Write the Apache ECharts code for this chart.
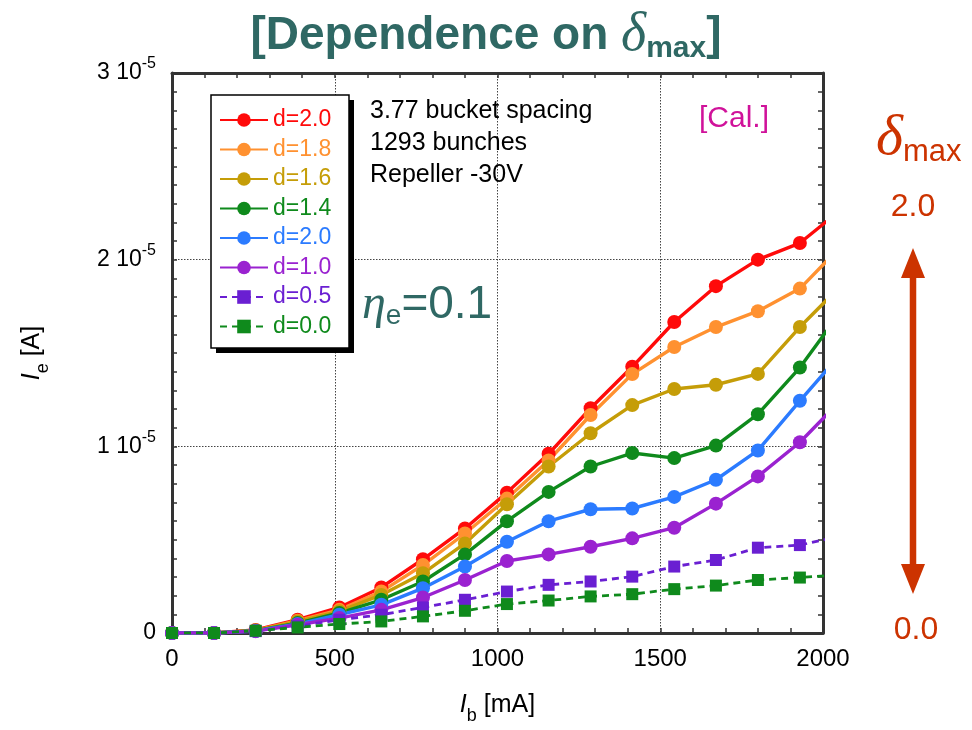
<!DOCTYPE html>
<html>
<head>
<meta charset="utf-8">
<script src="https://cdn.jsdelivr.net/npm/echarts@6/dist/echarts.min.js"></script>
<style>html,body{margin:0;padding:0;background:#fff}#c{width:972px;height:730px}</style>
</head>
<body>
<div id="c"></div>
<script>
// Beam current Ib [mA]
const ib = [0, 129, 257, 386, 514, 643, 771, 900, 1029, 1157, 1286, 1414, 1543, 1671, 1800, 1929, 2057];
// Electron current Ie, in units of 1e-5 A
const d20 = [0, 0, 0.016, 0.071, 0.137, 0.244, 0.395, 0.56, 0.752, 0.96, 1.204, 1.426, 1.666, 1.858, 2.0, 2.089, 2.27];
const d18 = [0, 0, 0.014, 0.066, 0.124, 0.222, 0.364, 0.533, 0.72, 0.924, 1.168, 1.387, 1.532, 1.639, 1.724, 1.845, 2.075];
const d16 = [0, 0, 0.013, 0.062, 0.116, 0.204, 0.32, 0.48, 0.69, 0.892, 1.07, 1.221, 1.307, 1.33, 1.388, 1.639, 1.864];
const d14 = [0, 0, 0.012, 0.053, 0.107, 0.178, 0.276, 0.421, 0.599, 0.756, 0.892, 0.964, 0.937, 1.004, 1.172, 1.422, 1.726];
const d12 = [0, 0, 0.011, 0.048, 0.098, 0.151, 0.24, 0.356, 0.489, 0.599, 0.663, 0.667, 0.729, 0.821, 0.978, 1.244, 1.50];
const d10 = [0, 0, 0.01, 0.044, 0.08, 0.124, 0.19, 0.284, 0.386, 0.421, 0.462, 0.507, 0.564, 0.693, 0.839, 1.022, 1.25];
const d05 = [0, 0, 0.01, 0.036, 0.071, 0.098, 0.137, 0.178, 0.222, 0.258, 0.276, 0.302, 0.356, 0.391, 0.457, 0.471, 0.52];
const d00 = [0, 0, 0.012, 0.03, 0.048, 0.062, 0.089, 0.119, 0.155, 0.174, 0.196, 0.208, 0.235, 0.254, 0.284, 0.297, 0.313];

const seriesKeys = ['s20', 's18', 's16', 's14', 's12', 's10', 's05', 's00'];
const legendLabels = ['d=2.0', 'd=1.8', 'd=1.6', 'd=1.4', 'd=2.0', 'd=1.0', 'd=0.5', 'd=0.0'];
const seriesData = [d20, d18, d16, d14, d12, d10, d05, d00];
const colors = ['#ff0a0a', '#ff9130', '#c59d08', '#0f8a1c', '#2b7bff', '#9a22d0', '#6a1fd2', '#0f8a1c'];
const dashed = [false, false, false, false, false, false, true, true];
const xTicks = [0, 500, 1000, 1500, 2000];
const yTickExp = -5;

const chart = echarts.init(document.getElementById('c'), null, {renderer: 'canvas'});
const teal = '#2f6864';
const rust = '#cc3300';

const series = seriesKeys.map((k, i) => ({
  name: k,
  type: 'line',
  data: ib.map((x, j) => [x, seriesData[i][j]]),
  symbol: dashed[i] ? 'rect' : 'circle',
  symbolSize: dashed[i] ? 12 : 14,
  showAllSymbol: true,
  clip: true,
  color: colors[i],
  itemStyle: {color: colors[i]},
  lineStyle: {color: colors[i], width: dashed[i] ? 2.8 : 3.4, type: dashed[i] ? [7, 5] : 'solid'},
  emphasis: {disabled: true},
  animation: false
}));

const axisCommon = {
  type: 'value',
  axisLine: {show: true, onZero: false, lineStyle: {color: '#333', width: 3}},
  axisTick: {show: true, inside: true, length: 5, lineStyle: {color: '#333', width: 1.5}},
  minorTick: {show: true, length: 5, lineStyle: {color: '#333', width: 1.5}},
};

const option = {
  animation: false,
  backgroundColor: '#fff',
  grid: {left: 172, top: 73, width: 651, height: 562, containLabel: false},
  xAxis: [
    Object.assign({}, axisCommon, {
      position: 'bottom', min: 0, max: 2000, interval: 500,
      minorTick: Object.assign({}, axisCommon.minorTick, {splitNumber: 5}),
      splitLine: {show: true, lineStyle: {color: '#444', width: 1, type: [1.5, 1.5]}},
      axisLabel: {fontSize: 24, color: '#000', margin: 14, fontFamily: 'Liberation Sans',
        formatter: v => xTicks.indexOf(v) >= 0 ? String(v) : ''},
      name: '{i|I}{s|b}{n| [mA]}',
      nameLocation: 'middle', nameGap: 52,
      nameTextStyle: {rich: {
        i: {fontSize: 25, fontStyle: 'italic', fontFamily: 'Liberation Sans', color: '#000'},
        s: {fontSize: 18, fontFamily: 'Liberation Sans', color: '#000', padding: [22, 0, 0, 0]},
        n: {fontSize: 25, fontFamily: 'Liberation Sans', color: '#000'}
      }}
    }),
    Object.assign({}, axisCommon, {
      position: 'top', min: 0, max: 2000, interval: 500,
      minorTick: Object.assign({}, axisCommon.minorTick, {splitNumber: 5}),
      splitLine: {show: false}, axisLabel: {show: false}
    })
  ],
  yAxis: [
    Object.assign({}, axisCommon, {
      position: 'left', min: 0, max: 3, interval: 1,
      minorTick: Object.assign({}, axisCommon.minorTick, {splitNumber: 10}),
      splitLine: {show: true, lineStyle: {color: '#444', width: 1, type: [1.5, 1.5]}},
      axisLabel: {margin: 16, fontFamily: 'Liberation Sans', color: '#000',
        formatter: v => v === 0 ? '{m|0}' : '{m|' + v + ' 10}{s|' + yTickExp + '}',
        rich: {
          m: {fontSize: 23, color: '#000', fontFamily: 'Liberation Sans'},
          s: {fontSize: 16, color: '#000', fontFamily: 'Liberation Sans', padding: [0, 0, 18, 0]}
        }},
      name: '{i|I}{s|e}{n| [A]}',
      nameLocation: 'middle', nameGap: 120, nameRotate: 90,
      nameTextStyle: {rich: {
        i: {fontSize: 25, fontStyle: 'italic', fontFamily: 'Liberation Sans', color: '#000'},
        s: {fontSize: 18, fontFamily: 'Liberation Sans', color: '#000', padding: [22, 0, 0, 0]},
        n: {fontSize: 25, fontFamily: 'Liberation Sans', color: '#000'}
      }}
    }),
    Object.assign({}, axisCommon, {
      position: 'right', min: 0, max: 3, interval: 1,
      minorTick: Object.assign({}, axisCommon.minorTick, {splitNumber: 10}),
      splitLine: {show: false}, axisLabel: {show: false}
    })
  ],
  legend: {
    orient: 'vertical', left: 211, top: 95,
    padding: [13, 10, 9, 8],
    itemWidth: 48, itemHeight: 17, itemGap: 5.5,
    selectedMode: false,
    z: 6,
    formatter: name => legendLabels[seriesKeys.indexOf(name)],
    textStyle: {fontSize: 23, lineHeight: 24, fontFamily: 'Liberation Sans'},
    data: seriesKeys.map((k, i) => ({name: k, textStyle: {color: colors[i]}}))
  },
  graphic: [
    // legend frame with drop shadow
    {type: 'rect', z: 3, shape: {x: 216, y: 100, width: 138, height: 253}, style: {fill: '#000'}},
    {type: 'rect', z: 3, shape: {x: 211, y: 95, width: 138, height: 253}, style: {fill: '#fff', stroke: '#000', lineWidth: 1.5}},
    {type: 'text', left: 'center', top: 9, z: 10, style: {
      text: '{b|[Dependence on }{d|δ}{s|max}{b|]}',
      rich: {
        b: {fontSize: 46, fontWeight: 'bold', fontFamily: 'Liberation Sans', fill: teal},
        d: {fontSize: 54, fontStyle: 'italic', fontFamily: 'Liberation Serif', fill: teal},
        s: {fontSize: 30, fontWeight: 'bold', fontFamily: 'Liberation Sans', fill: teal, padding: [26, 0, 0, 0]}
      }
    }},
    {type: 'text', x: 370, y: 99, z: 10, style: {text: '3.77 bucket spacing', fontSize: 25, fontFamily: 'Liberation Sans', fill: '#000'}},
    {type: 'text', x: 370, y: 131, z: 10, style: {text: '1293 bunches', fontSize: 25, fontFamily: 'Liberation Sans', fill: '#000'}},
    {type: 'text', x: 370, y: 163, z: 10, style: {text: 'Repeller -30V', fontSize: 25, fontFamily: 'Liberation Sans', fill: '#000'}},
    {type: 'text', x: 699, y: 104, z: 10, style: {text: '[Cal.]', fontSize: 30, fontFamily: 'Liberation Sans', fill: '#d0129a'}},
    {type: 'text', x: 362, y: 280, z: 10, style: {
      text: '{h|η}{s|e}{n|=0.1}',
      rich: {
        h: {fontSize: 48, fontStyle: 'italic', fontFamily: 'Liberation Serif', fill: teal},
        s: {fontSize: 28, fontFamily: 'Liberation Sans', fill: teal, padding: [22, 0, 0, 0]},
        n: {fontSize: 46, fontFamily: 'Liberation Sans', fill: teal}
      }
    }},
    {type: 'text', x: 876, y: 110, z: 10, style: {
      text: '{d|δ}{s|max}',
      rich: {
        d: {fontSize: 58, fontStyle: 'italic', fontFamily: 'Liberation Serif', fill: rust},
        s: {fontSize: 31, fontFamily: 'Liberation Sans', fill: rust, padding: [26, 0, 0, 0]}
      }
    }},
    {type: 'text', x: 913, y: 207, z: 10, style: {text: '2.0', fontSize: 32, fontFamily: 'Liberation Sans', fill: rust, textAlign: 'center', textVerticalAlign: 'middle'}},
    {type: 'text', x: 916, y: 630, z: 10, style: {text: '0.0', fontSize: 32, fontFamily: 'Liberation Sans', fill: rust, textAlign: 'center', textVerticalAlign: 'middle'}},
    {type: 'line', z: 10, shape: {x1: 913, y1: 270, x2: 913, y2: 572}, style: {stroke: rust, lineWidth: 6.5}},
    {type: 'polygon', z: 10, shape: {points: [[913, 248], [901, 278], [925, 278]]}, style: {fill: rust}},
    {type: 'polygon', z: 10, shape: {points: [[913, 594], [901, 564], [925, 564]]}, style: {fill: rust}}
  ],
  series: series
};
chart.setOption(option);
</script>
</body>
</html>
